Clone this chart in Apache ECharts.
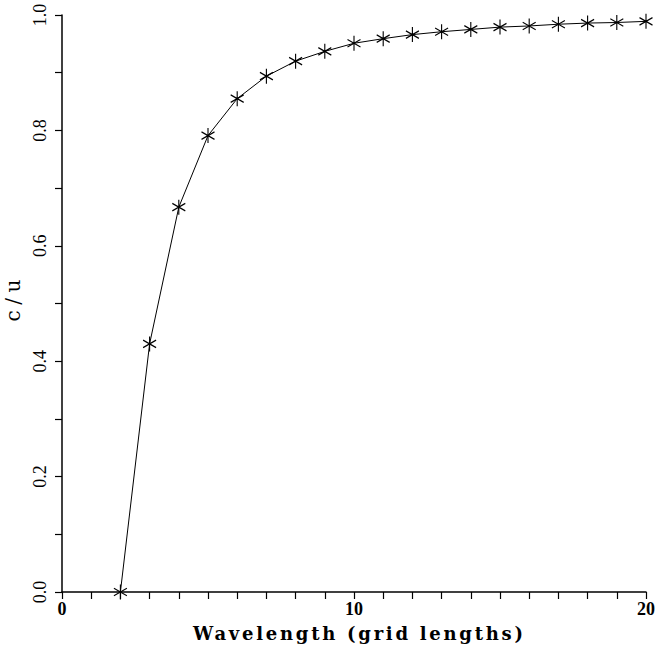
<!DOCTYPE html>
<html>
<head>
<meta charset="utf-8">
<script src="https://cdn.jsdelivr.net/npm/echarts@6/dist/echarts.min.js"></script>
<style>
html,body{margin:0;padding:0;background:#fff;}
#c{width:657px;height:649px;}
</style>
</head>
<body>
<div id="c"></div>
<script>
var wavelengths = [2,3,4,5,6,7,8,9,10,11,12,13,14,15,16,17,18,19,20];
var ratio = [0.000,0.430,0.667,0.791,0.855,0.894,0.920,0.937,0.951,0.959,0.966,0.971,0.975,0.979,0.981,0.984,0.986,0.987,0.989];
var xTitle = 'Wavelength (grid lengths)';
var yTitle = 'c/u';

var chart = echarts.init(document.getElementById('c'), null, {renderer:'svg'});
var data = wavelengths.map(function(x,i){return [x, ratio[i]];});
var font = '"DejaVu Serif", "Liberation Serif", serif';
var tickFont = '"Liberation Serif", "DejaVu Serif", serif';
chart.setOption({
  animation:false,
  backgroundColor:'#fff',
  grid:{left:62, right:11, top:15, bottom:57, containLabel:false, outerBoundsMode:'none'},
  xAxis:{
    type:'value', min:0, max:20, interval:10,
    name:xTitle, nameLocation:'middle', nameGap:32,
    nameTextStyle:{fontFamily:font, fontWeight:'bold', fontSize:18, color:'#000', padding:[0,0,0,8]},
    axisLine:{show:true, onZero:false, lineStyle:{color:'#000', width:1.5}},
    axisTick:{show:true, length:7, inside:false, lineStyle:{color:'#000', width:1.2}},
    minorTick:{show:true, splitNumber:10, length:7, lineStyle:{color:'#000', width:1.2}},
    axisLabel:{fontFamily:tickFont, fontSize:18, fontWeight:'bold', color:'#000', margin:8},
    splitLine:{show:false}
  },
  yAxis:{
    type:'value', min:0, max:1, interval:0.2,
    name:yTitle, nameLocation:'middle', nameGap:30, nameRotate:90,
    nameTextStyle:{fontFamily:font, fontSize:20, color:'#000', padding:[0,0,0,6]},
    axisLine:{show:true, lineStyle:{color:'#000', width:1.5}},
    axisTick:{show:true, length:7, lineStyle:{color:'#000', width:1.2}},
    minorTick:{show:true, splitNumber:2, length:7, lineStyle:{color:'#000', width:1.2}},
    axisLabel:{fontFamily:tickFont, fontSize:18, color:'#000', rotate:90, margin:13,
      formatter:function(v){return v.toFixed(1);}},
    splitLine:{show:false}
  },
  series:[{
    type:'line', data:data,
    lineStyle:{color:'#000', width:1},
    symbol:'path://M0,-1L0,1M-0.866,-0.5L0.866,0.5M-0.866,0.5L0.866,-0.5',
    symbolSize:[13,15],
    showAllSymbol:true,
    itemStyle:{color:'#000', borderColor:'#000', borderWidth:1.2}
  }]
});
function spaceTitles(){
  var texts = document.querySelectorAll('#c text');
  for (var i=0;i<texts.length;i++){
    var t = texts[i];
    if (t.textContent === xTitle) { t.setAttribute('textLength','330'); t.setAttribute('lengthAdjust','spacing'); }
    else if (t.textContent === yTitle) { t.setAttribute('textLength','42'); t.setAttribute('lengthAdjust','spacing'); }
  }
}
chart.on('finished', spaceTitles);
setTimeout(spaceTitles, 50);
</script>
</body>
</html>
